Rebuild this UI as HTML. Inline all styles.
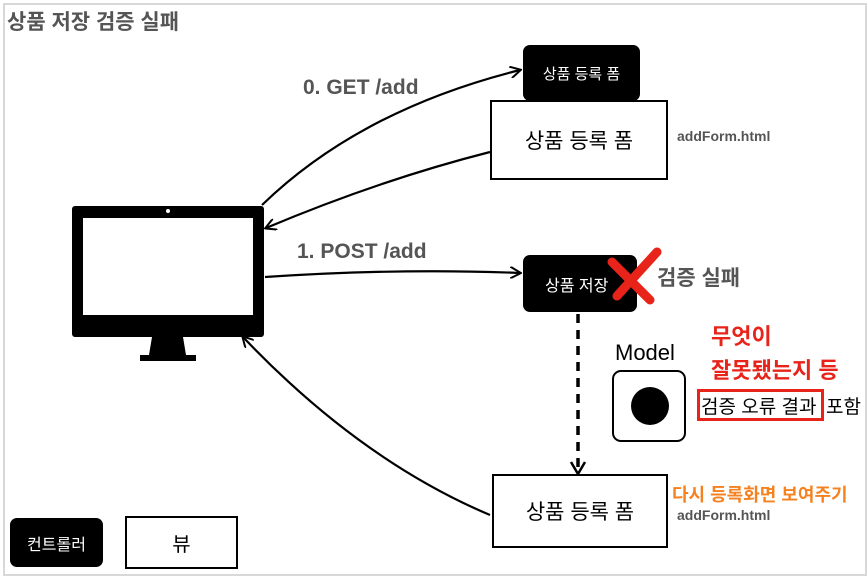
<!DOCTYPE html>
<html><head><meta charset="utf-8"><style>
body{margin:0;width:868px;height:577px;background:#fff;font-family:"Liberation Sans","Noto Sans CJK KR",sans-serif;position:relative;overflow:hidden}
.a{position:absolute}
.bk{background:#000;color:#fff;border-radius:7px;display:flex;align-items:center;justify-content:center}
.wb{border:2px solid #000;background:#fff;display:flex;align-items:center;justify-content:center;box-sizing:border-box}
</style></head><body>
<div class="a" style="left:3px;top:3px;width:860px;height:569px;border:2px solid #d8d8d8"></div>
<div class="a" style="left:7px;top:6px;font-size:21px;font-weight:bold;color:#555">상품 저장 검증 실패</div>
<svg class="a" style="left:0;top:0" width="868" height="577">
<defs><marker id="m" markerWidth="12" markerHeight="12" refX="10" refY="6" orient="auto" markerUnits="userSpaceOnUse"><path d="M0,0 L11,6 L0,12" fill="none" stroke="#000" stroke-width="2"/></marker></defs>
<g fill="none" stroke="#000" stroke-width="2.2">
<path d="M262,205 Q360,110 520,70" marker-end="url(#m)"/>
<path d="M490,152 Q380,180 266,228" marker-end="url(#m)"/>
<path d="M265,277 Q400,268 520,273" marker-end="url(#m)"/>
<path d="M490,515 Q360,460 243,337" marker-end="url(#m)"/>
<path d="M578,314 L578,468" stroke-width="3.5" stroke-dasharray="9,7"/>
<path d="M571,462 L578,474 L585,462" stroke-width="2.5"/>
</g>
<rect x="72" y="206" width="192" height="131" rx="3" fill="#000"/>
<rect x="83" y="218" width="170" height="97" fill="#fff"/>
<circle cx="168" cy="211" r="2" fill="#fff"/>
<path d="M152,337 L183,337 L186,355 L149,355 Z" fill="#000"/>
<rect x="140" y="355" width="56" height="6" fill="#000"/>
</svg>
<div class="a bk" style="left:523px;top:45px;width:117px;height:56px;font-size:15px">상품 등록 폼</div>
<div class="a wb" style="left:490px;top:100px;width:178px;height:80px;font-size:21px">상품 등록 폼</div>
<div class="a" style="left:677px;top:128px;font-size:14px;font-weight:bold;color:#555">addForm.html</div>
<div class="a" style="left:303px;top:76px;font-size:21px;font-weight:bold;color:#555">0. GET /add</div>
<div class="a" style="left:297px;top:240px;font-size:21px;font-weight:bold;color:#555">1. POST /add</div>
<div class="a bk" style="left:523px;top:255px;width:114px;height:57px;font-size:16px;justify-content:flex-start;padding-left:22px;box-sizing:border-box">상품 저장</div>
<svg class="a" style="left:0;top:0" width="868" height="577">
<path d="M617,296 L657,252 M612,262 L650,300" stroke="#e8231a" stroke-width="9" stroke-linecap="round"/>
</svg>
<div class="a" style="left:657px;top:262px;font-size:21px;font-weight:bold;color:#555">검증 실패</div>
<div class="a" style="left:711px;top:319px;font-size:22px;font-weight:bold;color:#e8231a">무엇이</div>
<div class="a" style="left:711px;top:353px;font-size:22px;font-weight:bold;color:#e8231a">잘못됐는지 등</div>
<div class="a" style="left:615px;top:340px;font-size:22px;color:#000">Model</div>
<div class="a" style="left:612px;top:370px;width:74px;height:72px;border:2.5px solid #000;border-radius:9px;box-sizing:border-box"></div>
<div class="a" style="left:631px;top:387px;width:38px;height:38px;border-radius:50%;background:#000"></div>
<div class="a" style="left:697px;top:389px;width:127px;height:32px;border:3px solid #e8231a;box-sizing:border-box"></div>
<div class="a" style="left:701px;top:392px;font-size:19px">검증 오류 결과</div>
<div class="a" style="left:826px;top:392px;font-size:19px">포함</div>
<div class="a wb" style="left:492px;top:474px;width:176px;height:74px;font-size:21px">상품 등록 폼</div>
<div class="a" style="left:672px;top:481px;font-size:18px;font-weight:bold;color:#f58220">다시 등록화면 보여주기</div>
<div class="a" style="left:677px;top:507px;font-size:14px;font-weight:bold;color:#555">addForm.html</div>
<div class="a bk" style="left:10px;top:518px;width:93px;height:49px;font-size:16px">컨트롤러</div>
<div class="a wb" style="left:125px;top:516px;width:113px;height:53px;font-size:20px">뷰</div>
</body></html>
